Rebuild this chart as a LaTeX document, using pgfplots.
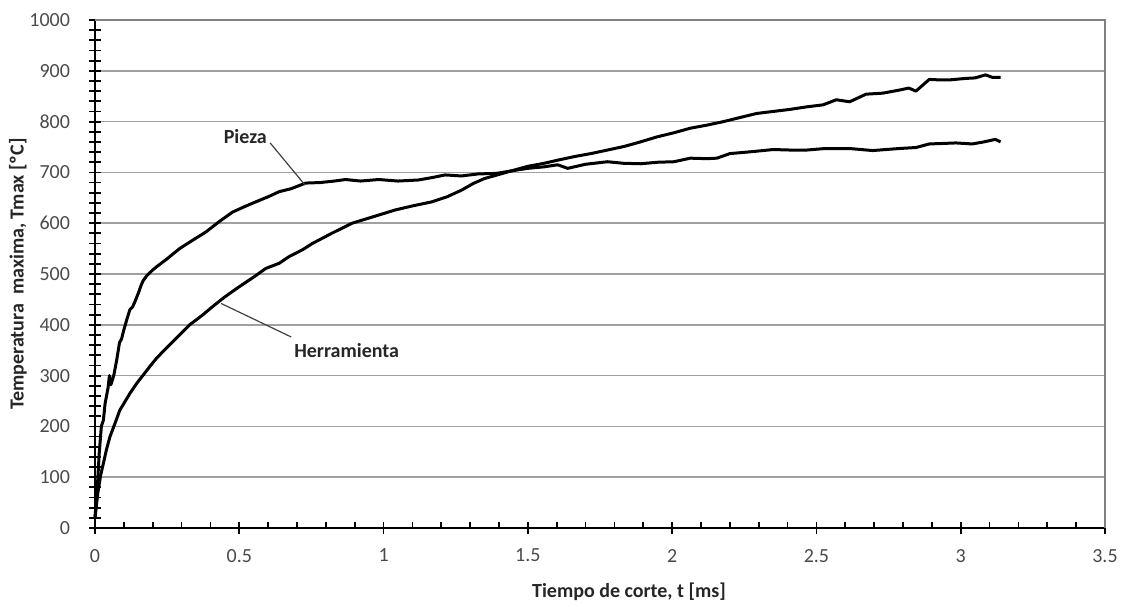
\documentclass[border=0pt]{standalone}
\usepackage{fontspec}
\setmainfont{Carlito}
\usepackage{pgfplots}
\pgfplotsset{compat=1.18}
\definecolor{tickgray}{HTML}{4A4A4A}
\definecolor{gridgray}{HTML}{A0A0A0}
\begin{document}
\begin{tikzpicture}
\begin{axis}[
  at={(0pt,0pt)}, anchor=south west,
  scale only axis, width=505pt, height=254pt,
  xmin=0, xmax=3.5, ymin=0, ymax=1000,
  xtick={0,0.5,1,1.5,2,2.5,3,3.5},
  xticklabels={0,0.5,1,1.5,2,2.5,3,3.5},
  ytick={0,100,...,1000},
  minor x tick num=0, minor y tick num=4,
  extra x ticks={0.1,0.2,0.3,0.4,0.6,0.7,0.8,0.9,1.1,1.2,1.3,1.4,1.6,1.7,1.8,1.9,2.1,2.2,2.3,2.4,2.6,2.7,2.8,2.9,3.1,3.2,3.3,3.4},
  extra x tick labels={},
  extra x tick style={tick align=inside, major tick length=3pt},
  axis lines=left,
  axis line style={-, black, line width=1pt},
  tick align=center,
  major tick length=6pt, minor tick length=6pt,
  tick style={black, line width=0.9pt},
  ymajorgrids,
  major grid style={gridgray, line width=0.75pt},
  /pgf/number format/assume math mode=true,
  /pgf/number format/1000 sep={},
  yticklabel style={font=\fontsize{10}{12}\selectfont, color=tickgray, xshift=-6pt},
  xticklabel style={font=\fontsize{10}{12}\selectfont, color=tickgray, yshift=-4pt},
  xlabel={Tiempo de corte, t [ms]},
  ylabel={Temperatura\ \ maxima, Tmax [ºC]},
  every axis x label/.style={at={(axis description cs:0.5287,0)}, yshift=-32pt, anchor=center, font=\bfseries\fontsize{10}{12}\selectfont, color=black!85},
  every axis y label/.style={at={(axis description cs:0,0.5)}, xshift=-38.5pt, rotate=90, anchor=center, font=\bfseries\fontsize{10}{12}\selectfont, color=black!85},
  clip=false,
]
\draw[gridgray!80!black, line width=0.9pt] (rel axis cs:0,1) -- (rel axis cs:1,1) -- (rel axis cs:1,0);
% Pieza
\addplot[black, line width=1.5pt, line join=round] coordinates {
(0,20)(0.008,80)(0.015,150)(0.022,200)(0.029,212)(0.035,245)(0.045,275)(0.05,300)(0.055,282)(0.065,300)(0.075,330)(0.085,365)(0.092,372)(0.1,390)(0.11,410)(0.121,430)(0.13,435)(0.138,445)(0.15,462)(0.16,478)(0.167,487)(0.18,497)(0.2,508)(0.213,514)(0.25,530)(0.293,550)(0.34,567)(0.385,583)(0.43,603)(0.477,622)(0.52,633)(0.557,642)(0.6,652)(0.638,662)(0.68,668)(0.73,679)(0.78,680)(0.83,683)(0.868,686)(0.92,683)(0.983,686)(1.05,683)(1.12,685)(1.17,690)(1.213,695)(1.27,693)(1.328,697)(1.39,698)(1.443,703)(1.5,708)(1.557,711)(1.603,715)(1.638,708)(1.7,716)(1.776,721)(1.83,718)(1.89,717)(1.95,720)(2.006,721)(2.063,728)(2.12,727)(2.155,728)(2.2,737)(2.28,741)(2.35,745)(2.41,744)(2.466,744)(2.53,747)(2.615,747)(2.695,743)(2.74,745)(2.787,747)(2.845,749)(2.891,756)(2.94,757)(2.983,758)(3.04,756)(3.08,760)(3.12,765)(3.138,760)
};
% Herramienta
\addplot[black, line width=1.5pt, line join=round] coordinates {
(0,20)(0.01,70)(0.02,105)(0.029,127)(0.04,155)(0.052,180)(0.07,207)(0.086,232)(0.1,245)(0.121,265)(0.145,285)(0.167,301)(0.19,318)(0.213,334)(0.24,350)(0.27,367)(0.3,384)(0.328,400)(0.37,418)(0.408,436)(0.45,455)(0.5,475)(0.55,494)(0.592,511)(0.638,521)(0.672,534)(0.72,548)(0.753,560)(0.82,580)(0.891,600)(0.96,612)(1.04,626)(1.1,634)(1.167,642)(1.22,652)(1.27,665)(1.31,678)(1.35,688)(1.4,696)(1.443,703)(1.5,712)(1.557,718)(1.603,724)(1.66,731)(1.718,737)(1.776,744)(1.833,751)(1.89,760)(1.948,770)(2.006,778)(2.063,787)(2.12,793)(2.178,800)(2.235,808)(2.293,816)(2.35,820)(2.408,824)(2.466,829)(2.523,833)(2.569,843)(2.615,839)(2.672,854)(2.73,856)(2.787,862)(2.82,866)(2.845,860)(2.891,883)(2.93,882)(2.96,882)(3.017,885)(3.05,886)(3.086,892)(3.11,887)(3.138,887)
};
\draw[black!75, line width=0.6pt] (axis cs:0.607,758) -- (axis cs:0.728,675);
\draw[black!75, line width=0.6pt] (axis cs:0.437,442) -- (axis cs:0.68,376);
\node[font=\bfseries\fontsize{10}{12}\selectfont, color=black!85] at (axis cs:0.521,770) {Pieza};
\node[font=\bfseries\fontsize{10}{12}\selectfont, color=black!85] at (axis cs:0.872,350) {Herramienta};
\end{axis}
\pgfresetboundingbox
\path[use as bounding box] (-47.5pt,-39pt) rectangle (515pt,264pt);
\end{tikzpicture}
\end{document}
